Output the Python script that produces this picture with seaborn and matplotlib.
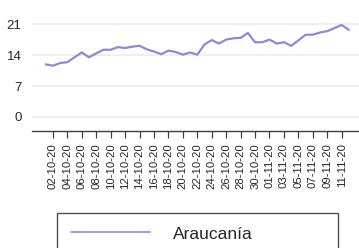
import pandas as pd
import seaborn as sns
import matplotlib.pyplot as plt

# datos diarios Araucanía, 01-10-20 a 12-11-20
fechas = pd.date_range("2020-10-01", "2020-11-12", freq="D")
valores = [11.9, 11.6, 12.2, 12.4, 13.5, 14.6, 13.5, 14.4, 15.2, 15.2,
           15.8, 15.6, 15.9, 16.1, 15.3, 14.8, 14.2, 15.0, 14.7, 14.1,
           14.6, 14.1, 16.4, 17.4, 16.6, 17.5, 17.8, 17.9, 19.0, 16.9,
           16.9, 17.5, 16.6, 16.9, 16.1, 17.3, 18.6, 18.6, 19.1, 19.4,
           20.1, 20.8, 19.7]
etiquetas = ["02-10-20", "04-10-20", "06-10-20", "08-10-20", "10-10-20",
             "12-10-20", "14-10-20", "16-10-20", "18-10-20", "20-10-20",
             "22-10-20", "24-10-20", "26-10-20", "28-10-20", "30-10-20",
             "01-11-20", "03-11-20", "05-11-20", "07-11-20", "09-11-20",
             "11-11-20"]
y_ticks = [0, 7, 14, 21]
serie = "Araucanía"

df = pd.DataFrame({"dia": range(len(fechas)), "valor": valores, "region": serie})

sns.set_style("white")
plt.rcParams["font.family"] = ["Liberation Sans", "DejaVu Sans"]

W, H = 359, 248
fig = plt.figure(figsize=(W / 100, H / 100), dpi=100)
ax = fig.add_axes([32 / W, 1 - 130.7 / H, (W - 32) / W, (130.7 - 2) / H])

sns.lineplot(data=df, x="dia", y="valor", hue="region", palette=["#8f88d8"],
             linewidth=1.6, ax=ax, legend=False)

ax.set_xlim(-1.9, 43.4)
ax.set_ylim(-3.1, 26.0)
ax.set_yticks(y_ticks)
ax.set_yticklabels([str(t) for t in y_ticks], fontsize=9.5)
ax.set_xticks(range(1, 42, 2))
ax.set_xticklabels(etiquetas, rotation=90, fontsize=8.2)
ax.set_xlabel("")
ax.set_ylabel("")

ax.grid(axis="y", color="#e6ecf0", linewidth=1.2)
ax.grid(axis="x", visible=False)
for s in ["top", "right", "left"]:
    ax.spines[s].set_visible(False)
ax.spines["bottom"].set_color("#404040")
ax.spines["bottom"].set_linewidth(1.0)
ax.tick_params(axis="x", bottom=True, length=5, width=0.9, color="#404040", pad=4)
ax.tick_params(axis="y", left=False, pad=4)

# leyenda abajo, recortada por el borde
handle = plt.Line2D([], [], color="#8f88d8", linewidth=1.2)
leg = fig.legend([handle], [serie], loc="upper left",
                 bbox_to_anchor=(56.7 / W, 1 - 215 / H, (337.7 - 56.7) / W, 0.01),
                 mode="expand", fontsize=12.5, frameon=True, fancybox=False,
                 borderpad=0.8, borderaxespad=0, handlelength=4.6,
                 handletextpad=1.3)
leg.get_frame().set_edgecolor("#222222")
leg.get_frame().set_linewidth(1.0)

fig.savefig("out.png", dpi=100)
